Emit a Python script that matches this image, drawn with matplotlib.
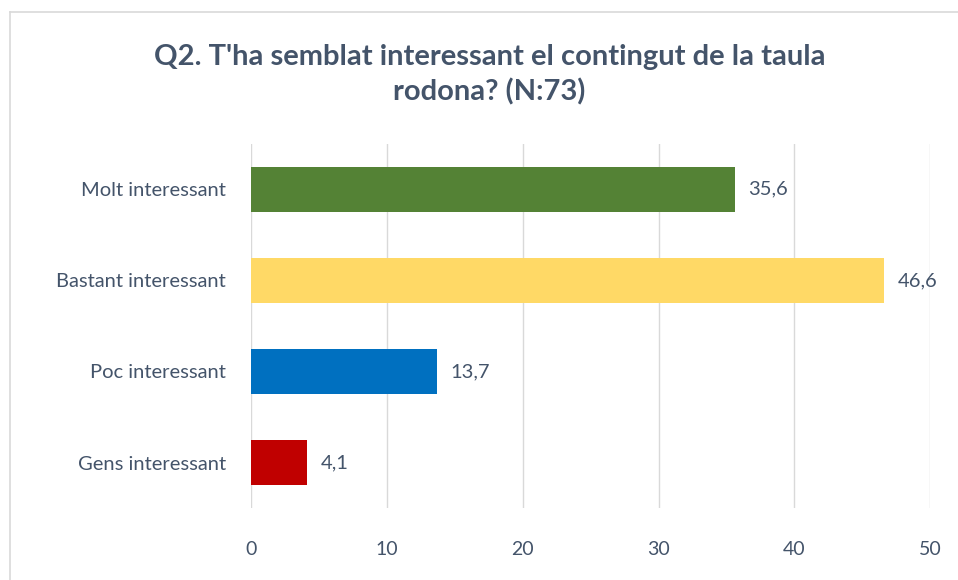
import matplotlib.pyplot as plt
from matplotlib.lines import Line2D

categories = ["Molt interessant", "Bastant interessant", "Poc interessant", "Gens interessant"]
values = [35.6, 46.6, 13.7, 4.1]
colors = ["#548235", "#FFD966", "#0070C0", "#C00000"]
xticks = [0, 10, 20, 30, 40, 50]

text_color = "#44546A"
plt.rcParams['font.family'] = ['Lato', 'DejaVu Sans']

fig = plt.figure(figsize=(9.58, 5.8), dpi=100)
ax = fig.add_axes([0.262, 0.124, 0.709, 0.628])

ypos = list(range(len(categories)))
ax.barh(ypos, values, height=0.5, color=colors, zorder=3)
ax.set_ylim(len(categories) - 0.5, -0.5)
ax.set_xlim(0, 50)

for y, v in zip(ypos, values):
    ax.text(v + 1.0, y, f"{v:.1f}".replace(".", ","), va="center", ha="left",
            fontsize=14.5, color=text_color)

ax.set_yticks(ypos)
ax.set_yticklabels(categories, fontsize=14.5, color=text_color)
ax.set_xticks(xticks)
ax.set_xticklabels([str(t) for t in xticks], fontsize=14, color=text_color)
ax.tick_params(axis="both", length=0)
ax.tick_params(axis="y", pad=18)
ax.tick_params(axis="x", pad=24)
ax.grid(axis="x", color="#D9D9D9", linewidth=1, zorder=0)
for s in ax.spines.values():
    s.set_visible(False)

fig.text(0.511, 0.871, "Q2. T'ha semblat interessant el contingut de la taula\nrodona? (N:73)",
         ha="center", va="center", fontsize=21, fontweight="bold", color=text_color,
         linespacing=1.4)

# chart area border
fig.add_artist(Line2D([10 / 958, 1], [1 - 12 / 580, 1 - 12 / 580], color="#D9D9D9", lw=1.2))
fig.add_artist(Line2D([10 / 958, 10 / 958], [0, 1 - 12 / 580], color="#D9D9D9", lw=1.2))

fig.savefig("out.png", dpi=100)
